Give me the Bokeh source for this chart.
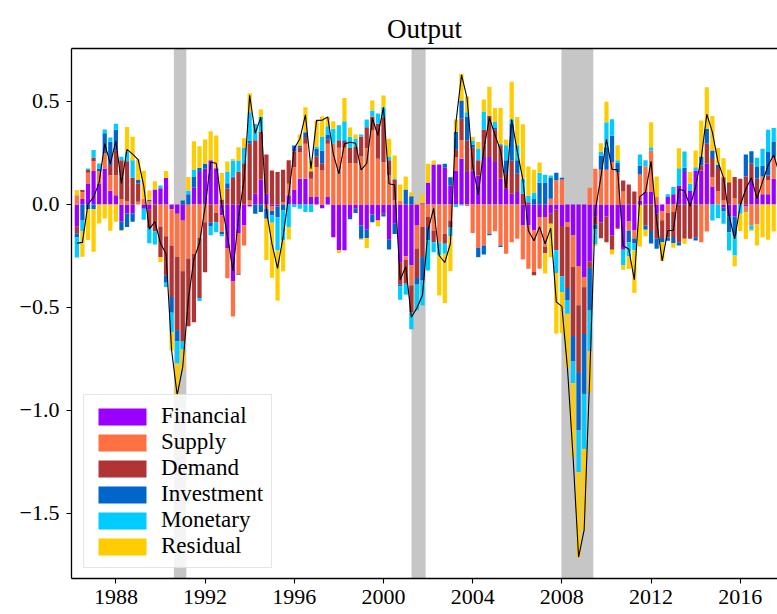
import numpy as np
from bokeh.plotting import figure
from bokeh.models import (Range1d, FixedTicker, BoxAnnotation, Legend, LegendItem,
                          LinearAxis)
from bokeh.embed import file_html
from bokeh.resources import INLINE

# ---------------- data (quarterly, first quarter at 1986.25) ----------------
start_year = 1986.25
step = 0.25

financial = [-0.108, 0.026, 0.102, 0.162, 0.102, 0.175, 0.066, 0.045, -0.084, -0.044,
             -0.044, 0.0, -0.021, -0.026, 0.073, 0.079, 0.128, -0.024, -0.045, -0.078,
             0.0, 0.081, 0.157, 0.173, 0.214, 0.176, -0.053, -0.212, -0.374, -0.139,
             -0.102, -0.01, 0.052, 0.121, 0.052, -0.008, -0.01, 0.0, 0.044, 0.073,
             0.125, 0.125, 0.036, 0.036, -0.018, 0.036, -0.159, -0.223, -0.223, -0.061,
             -0.021, -0.102, -0.123, -0.049, -0.078, -0.045, -0.172, -0.094, -0.28, -0.252,
             -0.296, -0.102, 0.006, 0.104, 0.194, 0.194, 0.178, 0.092, 0.165, 0.222,
             0.157, 0.165, 0.141, 0.23, 0.23, 0.206, 0.125, 0.076, 0.052, 0.06,
             -0.102, -0.102, -0.126, -0.061, -0.061, -0.045, -0.026, -0.105, -0.086, -0.15,
             -0.299, -0.353, -0.277, -0.06, -0.086, -0.058, -0.15, -0.11, -0.22, -0.083,
             -0.126, 0.019, 0.06, 0.06, -0.045, -0.032, 0.036, 0.049, 0.092, 0.157,
             0.065, 0.165, 0.165, 0.197, 0.087, 0.0, -0.016, -0.057, -0.057, 0.0,
             -0.01, 0.117, 0.036, 0.049, 0.049, 0.125, 0.1]

supply = [0.045, 0.034, 0.052, 0.049, 0.060, 0.073, 0.076, 0.097, 0.026, 0.016,
          0.0, 0.013, 0.028, 0.015, 0.0, -0.107, -0.155, -0.175, -0.21, -0.246,
          -0.262, -0.24, -0.163, -0.086, 0.0, -0.042, -0.081, -0.146, -0.17, -0.2,
          -0.097, 0.019, 0.0, 0.0, -0.021, -0.024, 0.0, 0.011, 0.057, 0.108,
          0.129, 0.17, 0.089, 0.146, 0.165, 0.259, 0.295, 0.275, 0.275, 0.2,
          0.2, 0.233, 0.273, 0.359, 0.222, 0.205, 0.141, 0.019, 0.019, -0.016,
          -0.097, -0.113, -0.11, -0.061, -0.126, -0.183, -0.142, -0.078, 0.065, 0.089,
          -0.008, -0.139, -0.212, -0.199, -0.142, -0.13, -0.199, -0.239, -0.183, -0.167,
          -0.165, -0.21, -0.202, -0.251, -0.146, 0.028, 0.117, 0.121, -0.024, -0.154,
          -0.191, -0.049, 0.081, 0.173, 0.168, 0.168, 0.206, 0.157, 0.063, -0.044,
          -0.04, 0.126, 0.125, 0.202, 0.036, -0.045, -0.04, -0.037, 0.0, 0.0,
          0.0, 0.0, -0.183, -0.131, 0.045, 0.065, 0.019, 0.0, 0.031, 0.0,
          -0.028, -0.102, -0.097, 0.087, 0.068, 0.102, 0.06]

demand = [-0.032, 0.010, 0.013, 0.016, 0.0, 0.0, 0.049, 0.121, 0.189, 0.194,
          0.131, 0.089, 0.0, -0.089, -0.13, -0.149, -0.189, -0.251, -0.356, -0.341,
          -0.33, -0.332, -0.291, -0.243, -0.086, -0.044, 0.024, 0.079, 0.129, 0.16,
          0.2, 0.275, 0.26, 0.233, 0.191, 0.165, 0.157, 0.157, 0.113, 0.076,
          0.024, 0.032, 0.036, 0.052, 0.032, 0.019, 0.0, 0.036, 0.028, 0.074,
          0.081, 0.097, 0.102, 0.068, 0.17, 0.218, 0.073, 0.1, -0.108, -0.117,
          -0.13, -0.142, -0.146, -0.049, -0.057, 0.0, -0.049, -0.032, 0.036, 0.105,
          0.154, 0.11, 0.073, 0.134, 0.2, 0.157, 0.162, 0.073, 0.16, 0.089,
          0.052, 0.011, -0.016, 0.0, -0.03, -0.049, -0.197, -0.244, -0.296, -0.335,
          -0.324, -0.227, -0.031, -0.036, -0.078, -0.125, -0.07, -0.008, 0.053, 0.097,
          0.063, -0.005, -0.102, -0.129, -0.121, -0.086, -0.12, -0.121, -0.183, -0.167,
          -0.167, -0.159, 0.024, 0.097, 0.094, 0.112, 0.113, 0.108, 0.102, 0.125,
          0.136, 0.081, 0.089, 0.0, 0.024, 0.0, 0.0]

investment = [-0.021, -0.076, -0.024, -0.023, 0.013, 0.097, 0.113, 0.100, -0.040, -0.065,
              -0.040, 0.016, 0.0, 0.008, 0.0, 0.0, -0.036, -0.076, -0.053, 0.019,
              0.05, 0.052, 0.021, 0.024, -0.019, 0.0, -0.011, 0.024, 0.006, -0.003,
              0.0, 0.016, -0.045, -0.037, -0.049, -0.021, -0.052, -0.029, 0.0, 0.029,
              0.008, 0.024, 0.0, 0.037, 0.065, 0.026, 0.0, 0.0, 0.008, -0.011,
              -0.021, -0.065, -0.04, -0.037, 0.0, -0.013, -0.047, -0.049, -0.01, 0.073,
              0.04, -0.032, -0.113, -0.065, 0.0, 0.0, 0.019, 0.04, 0.086, 0.089,
              0.113, 0.016, -0.044, -0.044, -0.008, 0.008, -0.008, 0.065, 0.178, 0.065,
              0.0, 0.0, 0.026, 0.105, 0.106, 0.1, 0.037, 0.008, -0.06, -0.123,
              -0.283, -0.291, -0.207, -0.024, 0.07, 0.11, 0.129, 0.044, 0.0, -0.057,
              -0.024, 0.044, -0.021, -0.061, -0.049, -0.019, -0.016, -0.029, -0.016, 0.021,
              0.0, -0.016, 0.044, 0.073, 0.036, 0.016, -0.018, -0.078, -0.094, 0.0,
              0.107, 0.06, 0.057, 0.053, 0.113, 0.076, 0.0]

monetary = [-0.097, -0.053, 0.008, 0.037, 0.024, 0.019, 0.021, 0.029, 0.016, 0.045,
            0.084, 0.0, -0.053, -0.073, -0.065, 0.013, -0.021, -0.094, -0.108, -0.039,
            0.018, 0.036, -0.015, 0.0, -0.045, -0.049, -0.01, 0.057, 0.078, 0.053,
            0.076, 0.138, 0.078, 0.07, 0.0, -0.036, -0.162, -0.146, -0.11, -0.013,
            -0.021, -0.037, -0.037, 0.008, 0.065, 0.04, 0.073, 0.073, 0.093, 0.055,
            0.037, 0.01, 0.037, 0.029, 0.049, 0.049, 0.016, 0.005, -0.065, -0.053,
            -0.083, -0.125, -0.121, -0.146, -0.049, -0.065, -0.049, -0.045, -0.013, -0.005,
            0.024, 0.019, 0.057, 0.087, 0.0, 0.029, 0.008, 0.073, 0.024, 0.073,
            0.073, 0.032, 0.032, 0.049, 0.038, 0.013, -0.11, -0.076, -0.065, -0.105,
            -0.202, -0.267, -0.197, -0.073, 0.019, 0.121, 0.078, 0.013, -0.076, -0.068,
            -0.032, 0.053, 0.029, 0.016, 0.0, 0.0, 0.013, 0.036, 0.084, 0.079,
            0.036, 0.016, 0.0, 0.0, -0.078, -0.066, -0.06, -0.089, -0.097, -0.045,
            0.0, -0.021, 0.045, 0.081, 0.108, 0.068, 0.04]

residual = [0.025, -0.125, -0.149, -0.207, -0.092, -0.068, -0.128, -0.084, -0.005, 0.121,
            0.113, 0.100, 0.135, 0.045, 0.039, -0.024, 0.034, -0.089, -0.154, -0.102,
            0.065, 0.138, 0.105, 0.118, 0.141, 0.159, 0.129, 0.049, 0.008, 0.065,
            0.045, 0.092, 0.0, 0.037, -0.2, -0.267, -0.243, -0.15, -0.06, 0.0,
            0.053, 0.121, 0.05, 0.129, 0.1, 0.045, 0.036, -0.013, 0.113, 0.045,
            0.021, -0.005, -0.049, 0.049, -0.028, 0.057, 0.089, 0.113, 0.078, 0.063,
            0.019, 0.011, 0.044, 0.094, 0.019, -0.194, -0.239, -0.168, 0.06, 0.129,
            0.076, 0.019, 0.032, 0.058, 0.141, 0.068, 0.173, 0.028, 0.181, 0.138,
            0.264, 0.141, 0.11, 0.049, -0.098, -0.162, -0.294, -0.199, -0.262, -0.354,
            -0.413, -0.393, -0.199, -0.008, 0.04, 0.1, -0.023, 0.073, -0.021, -0.061,
            -0.207, -0.199, -0.032, 0.121, 0.1, -0.092, 0.0, -0.023, 0.097, -0.024,
            0.057, 0.081, 0.175, 0.202, 0.167, 0.081, 0.092, 0.06, -0.052, -0.084,
            -0.13, -0.006, -0.102, -0.159, -0.172, -0.131, -0.05]

names = ["Financial", "Supply", "Demand", "Investment", "Monetary", "Residual"]
colors = ["#9a00ff", "#ff7043", "#b03434", "#0066cc", "#00ccff", "#ffcc00"]

rec_start = [1990.60, 2001.26, 2007.98]
rec_end = [1991.16, 2001.89, 2009.41]

x_ticks = [1988, 1992, 1996, 2000, 2004, 2008, 2012, 2016]
y_ticks = [-1.5, -1.0, -0.5, 0.0, 0.5]
y_tick_labels = ["\u22121.5", "\u22121.0", "\u22120.5", "0.0", "0.5"]

# ---------------- build ----------------
series = [financial, supply, demand, investment, monetary, residual]
n = len(financial)
dates = np.array([start_year + step * i for i in range(n)])

SERIF = "Liberation Serif"

p = figure(width=777, height=614,
           x_range=Range1d(1986.01, 2017.67), y_range=Range1d(-1.816, 0.757),
           output_backend="svg", toolbar_location=None,
           min_border_left=71, min_border_right=0, min_border_top=48, min_border_bottom=36)

p.title.text = "Output"
p.title.align = "center"
p.title.text_font = SERIF
p.title.text_font_size = "27px"
p.title.text_font_style = "normal"
p.title.text_color = "black"
p.title.standoff = 9

p.grid.visible = False
p.outline_line_color = None
p.background_fill_color = "white"
p.border_fill_color = "white"

for rs, re in zip(rec_start, rec_end):
    p.add_layout(BoxAnnotation(left=rs, right=re, fill_color="#c6c6c6", fill_alpha=1.0,
                               line_color=None, level="underlay"))

pos_base = np.zeros(n)
neg_base = np.zeros(n)
renderers = []
for vals, col in zip(series, colors):
    v = np.array(vals)
    bottom = np.where(v >= 0, pos_base, neg_base + v)
    top = np.where(v >= 0, pos_base + v, neg_base)
    pos_base = pos_base + np.where(v > 0, v, 0)
    neg_base = neg_base + np.where(v < 0, v, 0)
    r = p.vbar(x=dates, bottom=bottom, top=top, width=0.19, fill_color=col, line_color=None)
    renderers.append(r)

total = np.sum(np.array(series), axis=0)
p.line(dates, total, line_color="black", line_width=1.1)

# axes
for ax in (p.xaxis[0], p.yaxis[0]):
    ax.axis_line_color = "black"
    ax.axis_line_width = 1.3
    ax.major_tick_line_color = "black"
    ax.major_tick_line_width = 1.1
    ax.major_tick_out = 5
    ax.major_tick_in = 0
    ax.minor_tick_line_color = None
    ax.major_label_text_font = SERIF
    ax.major_label_text_font_size = "22px"
    ax.major_label_text_color = "black"

p.xaxis.ticker = FixedTicker(ticks=x_ticks)
p.xaxis.major_label_standoff = 6
p.yaxis.ticker = FixedTicker(ticks=y_ticks)
p.yaxis.major_label_overrides = {t: lab for t, lab in zip(y_ticks, y_tick_labels)}
p.yaxis.major_label_standoff = 7

top_axis = LinearAxis(ticker=FixedTicker(ticks=[]), axis_line_color="black",
                      axis_line_width=1.3, major_tick_line_color=None,
                      minor_tick_line_color=None, major_label_text_font_size="0px")
p.add_layout(top_axis, "above")

legend = Legend(items=[LegendItem(label=nm, renderers=[r]) for nm, r in zip(names, renderers)],
                location=(12, 10))
legend.glyph_width = 60
legend.glyph_height = 21
legend.label_text_font = SERIF
legend.label_text_font_size = "23px"
legend.label_text_color = "black"
legend.label_standoff = 9
legend.label_height = 21
legend.spacing = -7
legend.padding = 8
legend.margin = 0
legend.border_line_color = "#cccccc"
legend.border_line_width = 1
legend.background_fill_color = "white"
legend.background_fill_alpha = 0.8
p.add_layout(legend, "center")

open("out.html", "w").write(file_html(p, INLINE))
